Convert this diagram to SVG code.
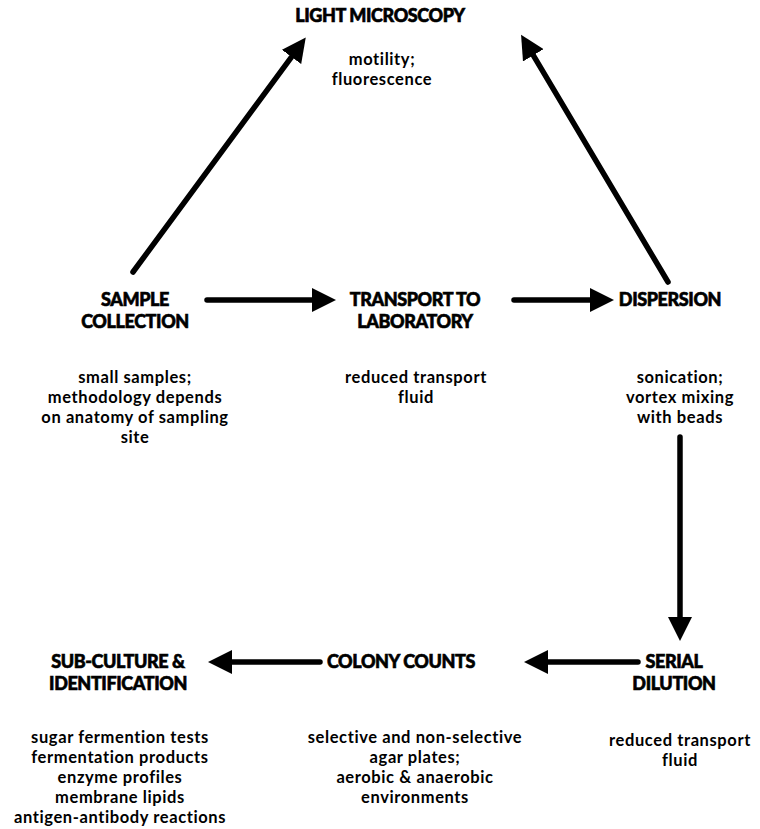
<svg xmlns="http://www.w3.org/2000/svg" width="760" height="829" viewBox="0 0 760 829">
<defs>
<marker id="ah" markerUnits="userSpaceOnUse" markerWidth="24" markerHeight="24" viewBox="0 0 24 24" refX="2" refY="12" orient="auto">
<path d="M0,0 L24,12 L0,24 z" fill="#000"/>
</marker>
<style>
.h{font-family:Lato,"Liberation Sans",sans-serif;font-weight:900;font-size:18px;fill:#000;stroke:#000;stroke-width:0.6px;text-anchor:middle;letter-spacing:-0.4px}
.b{font-family:Lato,"Liberation Sans",sans-serif;font-weight:700;font-size:16.5px;fill:#000;text-anchor:middle;letter-spacing:0.6px}
.c{stroke:#000;stroke-width:5.5;fill:none;stroke-linecap:round;marker-end:url(#ah)}
</style>
</defs>
<rect width="760" height="829" fill="#fff"/>
<g id="connectors">
<line class="c" x1="133" y1="272" x2="292.7" y2="55.3"/>
<line class="c" x1="668" y1="282" x2="532.3" y2="53.6"/>
<line class="c" x1="207" y1="300" x2="314" y2="300"/>
<line class="c" x1="514" y1="300" x2="592" y2="300"/>
<line class="c" x1="680" y1="437" x2="680" y2="619"/>
<line class="c" x1="638" y1="662" x2="546" y2="662"/>
<line class="c" x1="320" y1="662" x2="230" y2="662"/>
</g>
<g id="light-microscopy">
<text class="h" x="380" y="22">LIGHT MICROSCOPY</text>
<text class="b" x="382" y="65">motility;</text>
<text class="b" x="382" y="85">fluorescence</text>
</g>
<g id="sample-collection">
<text class="h" x="135" y="306">SAMPLE</text>
<text class="h" x="135" y="328">COLLECTION</text>
<text class="b" x="135" y="383">small samples;</text>
<text class="b" x="135" y="403">methodology  depends</text>
<text class="b" x="135" y="423">on anatomy of sampling</text>
<text class="b" x="135" y="443">site</text>
</g>
<g id="transport">
<text class="h" x="415" y="306">TRANSPORT TO</text>
<text class="h" x="415" y="328">LABORATORY</text>
<text class="b" x="416" y="383">reduced transport</text>
<text class="b" x="416" y="403">fluid</text>
</g>
<g id="dispersion">
<text class="h" x="670" y="306">DISPERSION</text>
<text class="b" x="680" y="383">sonication;</text>
<text class="b" x="680" y="403">vortex mixing</text>
<text class="b" x="680" y="423">with beads</text>
</g>
<g id="serial-dilution">
<text class="h" x="674" y="668">SERIAL</text>
<text class="h" x="674" y="690">DILUTION</text>
<text class="b" x="680" y="746">reduced transport</text>
<text class="b" x="680" y="766">fluid</text>
</g>
<g id="colony-counts">
<text class="h" x="401" y="668">COLONY COUNTS</text>
<text class="b" x="415" y="743">selective and non-selective</text>
<text class="b" x="415" y="763">agar plates;</text>
<text class="b" x="415" y="783">aerobic &amp; anaerobic</text>
<text class="b" x="415" y="803">environments</text>
</g>
<g id="sub-culture">
<text class="h" x="118" y="668">SUB-CULTURE &amp;</text>
<text class="h" x="118" y="690">IDENTIFICATION</text>
<text class="b" x="120" y="743">sugar  fermention tests</text>
<text class="b" x="120" y="763">fermentation  products</text>
<text class="b" x="120" y="783">enzyme  profiles</text>
<text class="b" x="120" y="803">membrane  lipids</text>
<text class="b" x="120" y="823">antigen-antibody reactions</text>
</g>
</svg>
